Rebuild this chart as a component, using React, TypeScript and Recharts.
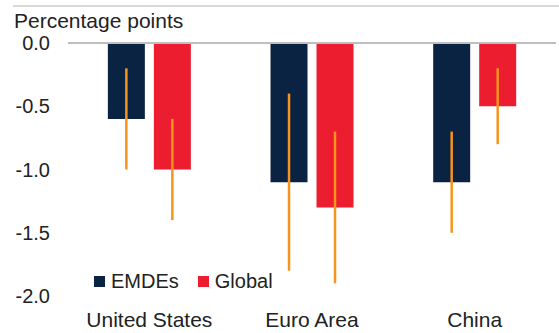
import React from 'react';
import { BarChart, Bar, XAxis, YAxis, ErrorBar, ReferenceLine } from 'recharts';

const regions = ['United States', 'Euro Area', 'China'];
const emdes = [-0.6, -1.1, -1.1];
const emdesErr = [0.4, 0.7, 0.4];
const global = [-1.0, -1.3, -0.5];
const globalErr = [0.4, 0.6, 0.3];
const yTicks = [0, -0.5, -1, -1.5, -2];

const NAVY = '#0B2343';
const RED = '#EB1D2E';
const ORANGE = '#F7941D';
const FONT = '"Liberation Sans", Arial, sans-serif';

const data = regions.map((name, i) => ({
  name,
  emdes: emdes[i],
  emdesErr: emdesErr[i],
  global: global[i],
  globalErr: globalErr[i],
}));

const LegendBox = () => (
  <div
    style={{
      position: 'absolute',
      left: 94,
      top: 270,
      display: 'flex',
      alignItems: 'center',
      fontFamily: FONT,
      fontSize: 20,
      lineHeight: '22px',
      color: '#222',
    }}
  >
    <span style={{ width: 11, height: 11, background: NAVY, display: 'inline-block', marginRight: 6 }} />
    <span style={{ marginRight: 19 }}>EMDEs</span>
    <span style={{ width: 11, height: 11, background: RED, display: 'inline-block', marginRight: 6 }} />
    <span>Global</span>
  </div>
);

const App: React.FC = () => {
  return (
    <div style={{ position: 'absolute', left: 0, top: 0, width: 559, height: 333, background: '#fff' }}>
      <div style={{ position: 'absolute', left: 13, top: 5, width: 546, height: 0, borderTop: '2px solid #D9D9D9' }} />
      <div style={{ position: 'absolute', left: 14, top: 9, fontFamily: FONT, fontSize: 21, color: '#222', lineHeight: '24px' }}>
        Percentage points
      </div>
      <BarChart
        width={559}
        height={333}
        data={data}
        margin={{ top: 43, right: 3, left: 0, bottom: 7 }}
        barCategoryGap="24.5%"
        barGap={9}
      >
        <YAxis
          type="number"
          domain={[-2, 0]}
          ticks={yTicks}
          tickFormatter={(v: number) => v.toFixed(1)}
          width={68}
          axisLine={false}
          tickLine={false}
          tickSize={0}
          tickMargin={18}
          tick={{ fill: '#222', fontSize: 20, fontFamily: FONT }}
        />
        <XAxis
          dataKey="name"
          height={30}
          axisLine={false}
          tickLine={false}
          tickSize={0}
          tickMargin={16}
          interval={0}
          tick={{ fill: '#222', fontSize: 21, fontFamily: FONT }}
        />
        <ReferenceLine y={0} stroke="#BFBFBF" strokeWidth={2} />
        <Bar dataKey="emdes" fill={NAVY} isAnimationActive={false}>
          <ErrorBar dataKey="emdesErr" width={0} stroke={ORANGE} strokeWidth={2.5} direction="y" />
        </Bar>
        <Bar dataKey="global" fill={RED} isAnimationActive={false}>
          <ErrorBar dataKey="globalErr" width={0} stroke={ORANGE} strokeWidth={2.5} direction="y" />
        </Bar>
      </BarChart>
      <LegendBox />
    </div>
  );
};

export default App;
